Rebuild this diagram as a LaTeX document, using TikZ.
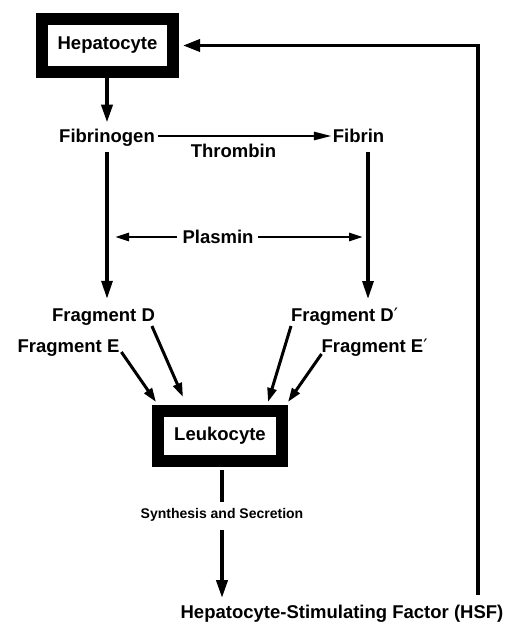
\documentclass[tikz,border=0pt]{standalone}
\usepackage{fontspec}
\setmainfont{Liberation Sans}
\newfontfamily\primefont{DejaVu Sans}
\usetikzlibrary{arrows.meta}
\begin{document}
\begin{tikzpicture}[x=1pt,y=-1pt,
  lbl/.style={font=\bfseries\fontsize{18.5}{21}\selectfont, inner sep=1pt, outer sep=0pt},
  slbl/.style={font=\bfseries\fontsize{14}{16}\selectfont, inner sep=1pt, outer sep=0pt},
  cellbox/.style={draw, line width=12pt, rectangle, font=\bfseries\fontsize{18.5}{21}\selectfont},
  arrv/.style={line width=3.2pt, -{Triangle[length=18pt,width=11pt]}},
  arrh/.style={line width=2.6pt, -{Triangle[length=18pt,width=8pt]}},
  arrp/.style={line width=2.6pt, -{Triangle[length=14pt,width=8pt]}},
  arrfr/.style={line width=3pt, -{Triangle[length=14pt,width=9pt]}},
  plainln/.style={line width=3.5pt}
]
\useasboundingbox (0,0) rectangle (511,624);
\fill[white] (0,0) rectangle (511,624);

\node[cellbox, minimum width=131pt, minimum height=53pt] (hep) at (107.5,45.5) {Hepatocyte};
\node[lbl, anchor=base] (fibrinogen) at (107,142) {Fibrinogen};
\node[lbl, anchor=base] (fibrin) at (358.5,142) {Fibrin};
\node[lbl, anchor=base] (thrombin) at (233.5,157) {Thrombin};
\node[lbl, anchor=base] (plasmin) at (218,243) {Plasmin};
\node[lbl, anchor=base] (fragD) at (103.5,321) {Fragment D};
\node[lbl, anchor=base] (fragE) at (68.5,352) {Fragment E};
\node[lbl, anchor=base] (fragDp) at (344.5,321) {Fragment D{\primefont\mdseries ′}};
\node[lbl, anchor=base] (fragEp) at (374.5,352) {Fragment E{\primefont\mdseries ′}};
\node[cellbox, minimum width=124pt, minimum height=50pt] (leuk) at (220,436) {Leukocyte};
\node[slbl, anchor=base] (synth) at (222,518) {Synthesis and Secretion};
\node[lbl, anchor=base] (hsf) at (342,618) {Hepatocyte-Stimulating Factor (HSF)};

\coordinate (fbx) at ([xshift=9.5pt]fibrin.south);
\coordinate (pw) at ([yshift=6pt]plasmin.base west);
\coordinate (pe) at ([yshift=6pt]plasmin.base east);
\coordinate (corner) at (478,0);

% Hepatocyte -> Fibrinogen
\draw[arrv, line width=3.8pt, shorten >=5pt] (hep.south -| fibrinogen.north) -- (fibrinogen.north);
% Fibrinogen -> Fibrin
\draw[arrh] ([xshift=2pt,yshift=6pt]fibrinogen.base east) -- ([yshift=6pt]fibrin.base west);
% Fibrinogen -> Fragment D
\draw[arrv, shorten <=5pt, shorten >=8.5pt] (fibrinogen.south) -- (fibrinogen.south |- fragD.north);
% Fibrin -> Fragment D'
\draw[arrv, shorten <=9pt, shorten >=7.5pt] (fbx) -- (fbx |- fragDp.north);
% Plasmin
\draw[arrp, shorten <=5pt, shorten >=8pt] (pw) -- (pw -| fibrinogen.south);
\draw[arrp, shorten <=4pt, shorten >=5pt] (pe) -- (pe -| fbx);
% Fragments -> Leukocyte
\draw[arrfr] ([xshift=1pt]fragE.base east) -- ([xshift=4pt,yshift=3pt]leuk.north west);
\draw[arrfr] ([xshift=-4pt,yshift=-5pt]fragD.base east) -- ([xshift=31pt,yshift=8pt]leuk.north west);
\draw[arrfr] ([xshift=1pt,yshift=-5pt]fragDp.base west) -- ([xshift=-20pt,yshift=3pt]leuk.north east);
\draw[arrfr] ([xshift=1pt,yshift=-2pt]fragEp.base west) -- ([yshift=3pt]leuk.north east);
% Leukocyte -> Synthesis
\draw[plainln, shorten <=3pt, shorten >=4.5pt] (synth.north |- leuk.south) -- (synth.north);
% Synthesis -> HSF
\draw[arrv, line width=3.8pt, shorten <=8pt, shorten >=5.5pt] (synth.south) -- (synth.south |- hsf.north);
% Feedback HSF -> Hepatocyte
\draw[line width=3.5pt, -{Triangle[length=17pt,width=12pt]}, shorten <=8.5pt, shorten >=4pt]
  (hsf.north -| corner) -- (hep.east -| corner) -- (hep.east);
\end{tikzpicture}
\end{document}
